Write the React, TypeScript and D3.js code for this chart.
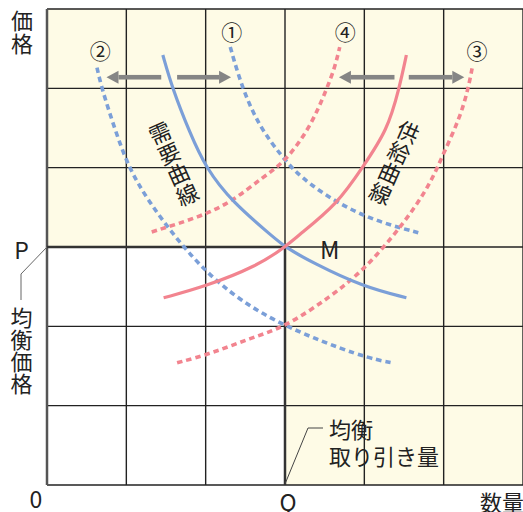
import React from "react";
import * as d3 from "d3";

// grid units: quantity (x) 0..6, price (y) 0..6, equilibrium M at (3,3)
const gridTicks = [0, 1, 2, 3, 4, 5, 6];

const demand: [number, number][] = [
  [1.46, 5.42], [1.58, 5.0], [1.8, 4.44], [2.0, 4.0], [2.33, 3.57], [2.87, 3.11],
  [3.0, 3.0], [3.35, 2.8], [3.98, 2.5], [4.53, 2.36],
];
const demandRight: [number, number][] = [
  [2.31, 5.52], [2.46, 5.0], [2.68, 4.51], [2.97, 4.13], [3.19, 3.88], [3.66, 3.55],
  [4.16, 3.32], [4.68, 3.18],
];
const demandLeft: [number, number][] = [
  [0.63, 5.26], [0.69, 5.0], [0.86, 4.47], [1.03, 4.0], [1.27, 3.59], [1.64, 3.09],
  [2.02, 2.67], [2.43, 2.33], [3.0, 1.99], [3.98, 1.61], [4.36, 1.54],
];
const supply: [number, number][] = [
  [1.47, 2.36], [1.99, 2.5], [2.65, 2.76], [3.0, 3.0], [3.15, 3.13], [3.67, 3.55],
  [3.98, 4.01], [4.29, 4.47], [4.44, 5.0], [4.53, 5.42],
];
const supplyLeft: [number, number][] = [
  [1.32, 3.19], [1.93, 3.38], [2.33, 3.57], [2.72, 3.88], [3.0, 4.07], [3.32, 4.51],
  [3.53, 5.0], [3.63, 5.27], [3.69, 5.52],
];
const supplyRight: [number, number][] = [
  [1.64, 1.54], [2.08, 1.66], [2.56, 1.85], [3.0, 1.99], [3.57, 2.37], [3.98, 2.7],
  [4.36, 3.13], [4.64, 3.5], [4.85, 3.84], [4.99, 4.16], [5.21, 4.64], [5.31, 5.0],
  [5.36, 5.26],
];

// shift arrows: [from x, to x, y]
const arrows: [number, number, number][] = [
  [1.44, 0.75, 5.14], [1.64, 2.32, 5.14],
  [4.38, 3.68, 5.14], [4.56, 5.26, 5.14],
];

const circleLabels = [
  { t: "①", x: 2.33, y: 5.72 },
  { t: "②", x: 0.67, y: 5.48 },
  { t: "③", x: 5.42, y: 5.48 },
  { t: "④", x: 3.76, y: 5.72 },
];

const BLUE = "#7b9fd8";
const RED = "#f2848f";
const CREAM = "#fefbe6";
const FONT = "'Noto Sans CJK JP', 'Noto Sans', sans-serif";

const vertical = { writingMode: "vertical-rl" as const };

export default function App() {
  const x = d3.scaleLinear().domain([0, 6]).range([47, 523]);
  const y = d3.scaleLinear().domain([0, 6]).range([485, 9]);
  const line = d3
    .line<[number, number]>()
    .x((d) => x(d[0]))
    .y((d) => y(d[1]))
    .curve(d3.curveBasis);

  const curves = [
    { d: demandLeft, c: BLUE, dash: true },
    { d: demandRight, c: BLUE, dash: true },
    { d: supplyLeft, c: RED, dash: true },
    { d: supplyRight, c: RED, dash: true },
    { d: demand, c: BLUE, dash: false },
    { d: supply, c: RED, dash: false },
  ];

  return (
    <svg
      width={523}
      height={512}
      style={{ position: "absolute", left: 0, top: 0, background: "#fff" }}
      fontFamily={FONT}
      fontSize={22}
      fill="#222"
    >
      <rect x={x(0)} y={y(6)} width={x(6) - x(0)} height={y(0) - y(6)} fill={CREAM} />
      <rect x={x(0)} y={y(3)} width={x(3) - x(0)} height={y(0) - y(3)} fill="#fff" />

      {gridTicks.map((t) => (
        <g key={t} stroke="#222" strokeWidth={1.4}>
          <line x1={x(t)} x2={x(t)} y1={y(0)} y2={y(6)} />
          <line x1={x(0)} x2={x(6)} y1={y(t)} y2={y(t)} />
        </g>
      ))}
      <line x1={x(0)} x2={x(0)} y1={y(0)} y2={y(6)} stroke="#555" strokeWidth={2.5} />
      <line x1={x(0)} x2={x(3)} y1={y(3)} y2={y(3)} stroke="#333" strokeWidth={2.5} />
      <line x1={x(3)} x2={x(3)} y1={y(3)} y2={y(0)} stroke="#333" strokeWidth={2.5} />

      {curves.map((c, i) => (
        <path
          key={i}
          d={line(c.d) || ""}
          fill="none"
          stroke={c.c}
          strokeWidth={c.dash ? 3.6 : 3.2}
          strokeDasharray={c.dash ? "5.5,4" : undefined}
        />
      ))}

      {arrows.map(([a, b, yy], i) => {
        const dir = b > a ? 1 : -1;
        const tip = x(b);
        const base = tip - dir * 12;
        const py = y(yy);
        return (
          <g key={i} fill="#858585">
            <rect x={Math.min(x(a), base)} y={py - 2.3} width={Math.abs(base - x(a))} height={4.6} />
            <path d={`M${tip},${py} L${base},${py - 6.5} L${base},${py + 6.5} Z`} />
          </g>
        );
      })}

      {circleLabels.map((l) => (
        <text key={l.t} x={x(l.x)} y={y(l.y)} textAnchor="middle" dominantBaseline="central" fontSize={21}>
          {l.t}
        </text>
      ))}

      <g transform="translate(160,133) rotate(-24)">
        <text x={0} y={-11} style={vertical} letterSpacing={0.5}>需要曲線</text>
      </g>
      <g transform="translate(408,132) rotate(24)">
        <text x={0} y={-11} style={vertical} letterSpacing={0.5}>供給曲線</text>
      </g>

      <text x={320} y={259} fontSize={24}>M</text>

      <text x={22} y={10} style={vertical} letterSpacing={1}>価格</text>
      <text x={21.5} y={259} fontSize={23} textAnchor="middle">P</text>
      <path d={`M${x(0)},${y(3)} L21,274 L21,300`} fill="none" stroke="#666" strokeWidth={1} />
      <text x={21.5} y={307} style={vertical}>均衡価格</text>

      <text x={36} y={508} fontSize={23} textAnchor="middle">0</text>
      <text x={288} y={511} fontSize={23} textAnchor="middle">Q</text>
      <text x={480} y={511}>数量</text>

      <path d={`M${x(3)},${y(0) - 1} L308,428 L323,428`} fill="none" stroke="#444" strokeWidth={1} />
      <text x={329} y={438}>
        <tspan x={329}>均衡</tspan>
        <tspan x={329} dy={27}>取り引き量</tspan>
      </text>
    </svg>
  );
}
